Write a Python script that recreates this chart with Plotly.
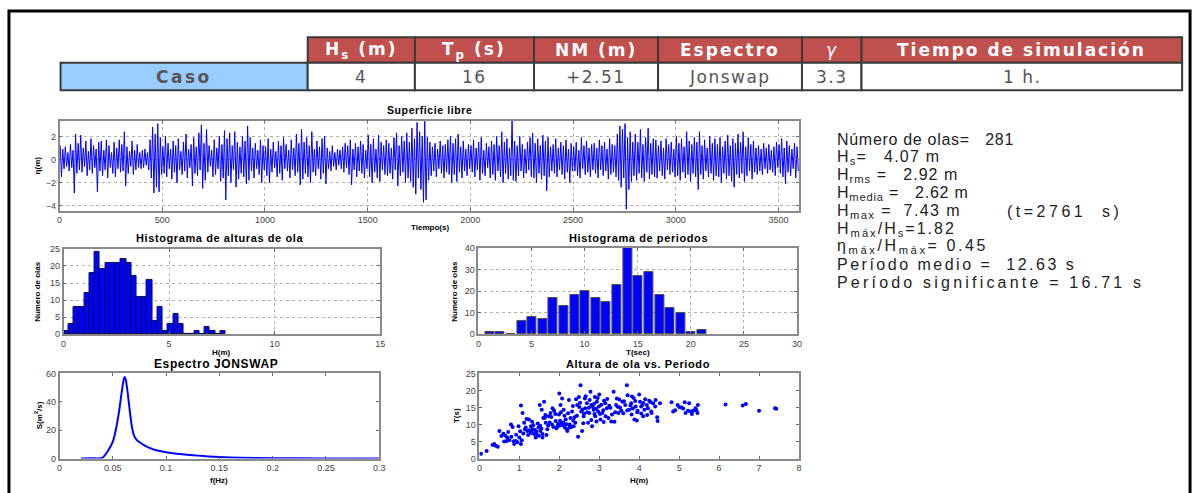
import plotly.graph_objects as go

W, H = 1203, 493

# ---------------- DATA ----------------
table_headers = ["H<sub>s</sub> (m)", "T<sub>p</sub> (s)", "NM (m)", "Espectro", "γ", "Tiempo de simulación"]
table_row_label = "Caso"
table_values = ["4", "16", "+2.51", "Jonswap", "3.3", "1 h."]

# Free-surface record: crest / trough of each wave, rows = 100 s blocks
crests = [
    1.2, 0.9, 1.1, 0.6, 1.3, 0.8, 2.2, 1.4,
    2.1, 1.0, 1.6, 0.7, 1.8, 1.2, 0.9, 1.5,
    1.6, 0.8, 1.7, 1.2, 0.6, 1.5, 1.0, 1.7,
    1.3, 2.4, 1.1, 0.7, 1.6, 0.8, 1.3, 0.6,
    0.8, 0.9, 0.6, 1.7, 2.8, 2.2, 3.1, 1.9,
    1.1, 2.0, 1.4, 0.9, 1.6, 1.2, 1.8, 0.7,
    1.5, 2.2, 0.9, 1.3, 1.9, 1.1, 2.3, 3.0,
    1.4, 2.6, 1.2, 0.8, 1.7, 1.0, 2.0, 1.3,
    2.5, 1.8, 2.3, 1.2, 2.4, 1.5, 1.1, 2.0,
    1.6, 2.9, 1.9, 1.0, 1.4, 0.8, 1.7, 1.2,
    1.1, 1.8, 0.9, 1.5, 0.7, 1.6, 1.2, 1.9,
    1.3, 0.8, 1.7, 1.0, 2.2, 1.4, 2.6, 1.5,
    1.9, 1.2, 2.4, 0.9, 1.6, 1.1, 1.8, 2.0,
    1.0, 0.7, 1.2, 0.6, 0.9, 0.8, 1.1, 1.4,
    1.2, 1.7, 0.9, 1.4, 1.1, 1.6, 1.3, 0.8,
    2.1, 1.3, 1.8, 0.9, 2.1, 1.5, 1.2, 1.7,
    1.4, 1.0, 1.9, 2.3, 1.2, 2.0, 1.6, 2.3,
    1.5, 2.7, 1.8, 3.2, 2.4, 2.0, 3.3, 1.9,
    1.5, 1.1, 1.4, 0.9, 1.6, 1.2, 1.3, 1.7,
    2.0, 1.4, 1.8, 2.2, 1.1, 1.6, 0.9, 1.3,
    1.2, 1.7, 1.0, 1.5, 1.9, 0.8, 1.4, 1.1,
    1.6, 1.3, 2.0, 1.2, 2.4, 1.5, 1.8, 1.0,
    3.4, 1.6, 1.2, 2.0, 1.3, 0.9, 1.5, 1.9,
    2.3, 1.4, 1.8, 1.2, 2.1, 1.6, 1.9, 1.1,
    1.3, 1.8, 1.0, 1.5, 1.2, 1.7, 0.9, 1.4,
    1.1, 1.5, 0.8, 1.9, 1.2, 1.6, 1.0, 1.3,
    1.4, 1.0, 1.7, 1.2, 1.5, 0.9, 1.8, 1.3,
    1.2, 2.2, 2.9, 2.6, 3.1, 1.9, 2.4, 1.5,
    2.2, 1.5, 2.6, 1.3, 1.9, 2.7, 1.4, 1.8,
    1.7, 1.2, 1.6, 1.0, 1.8, 1.3, 1.5, 0.9,
    2.0, 1.4, 1.8, 1.1, 2.4, 1.6, 1.3, 1.9,
    1.5, 2.4, 1.2, 1.7, 1.0, 2.0, 1.4, 1.8,
    1.3, 1.9, 1.1, 1.6, 2.1, 1.2, 1.8, 1.4,
    2.2, 1.5, 2.4, 1.1, 1.9, 1.3, 1.6, 1.0,
    1.2, 0.9, 1.4, 1.0, 1.3, 0.8, 1.1, 1.5,
    1.3, 1.8, 1.0, 1.6, 1.2, 0.9, 1.4, 1.1,
]
troughs = [
    -1.5, -0.8, -0.6, -1.0, -0.7, -2.9, -1.2, -0.9,
    -1.1, -0.6, -1.4, -0.9, -1.2, -0.7, -2.8, -1.0,
    -1.4, -0.9, -1.6, -0.7, -1.2, -1.5, -0.8, -1.1,
    -1.0, -2.3, -1.2, -0.6, -1.3, -0.9, -0.7, -0.8,
    -0.7, -0.5, -0.9, -1.6, -2.9, -2.4, -2.8, -1.3,
    -1.2, -1.5, -0.8, -1.7, -1.1, -2.0, -0.9, -1.3,
    -1.0, -1.6, -0.7, -2.3, -1.2, -1.4, -0.9, -2.5,
    -1.8, -1.1, -0.6, -1.5, -1.3, -0.8, -1.9, -1.6,
    -3.5, -1.4, -2.0, -0.9, -2.4, -1.7, -1.2, -1.5,
    -2.1, -1.8, -1.0, -1.6, -0.8, -1.3, -2.0, -0.9,
    -1.4, -2.0, -1.1, -0.7, -1.5, -1.2, -1.8, -0.8,
    -1.0, -1.6, -0.9, -1.4, -1.1, -2.2, -1.7, -1.2,
    -1.5, -2.0, -1.1, -1.4, -0.8, -1.7, -1.2, -2.1,
    -0.8, -1.0, -0.6, -0.9, -0.5, -0.8, -1.1, -0.7,
    -1.3, -2.2, -0.9, -1.5, -1.0, -1.2, -1.6, -0.8,
    -1.5, -2.0, -1.1, -1.6, -1.9, -0.9, -1.3, -1.4,
    -1.2, -1.7, -0.9, -2.3, -1.4, -1.1, -2.0, -1.6,
    -1.9, -2.4, -3.0, -1.6, -2.6, -3.7, -3.5, -1.8,
    -1.4, -1.0, -1.5, -0.8, -1.2, -1.6, -1.1, -1.3,
    -2.0, -1.3, -1.9, -1.1, -1.6, -1.0, -1.4, -0.8,
    -1.1, -1.5, -0.9, -1.8, -1.2, -1.4, -0.7, -1.6,
    -1.3, -1.8, -1.0, -1.5, -2.0, -1.2, -1.7, -1.4,
    -1.8, -1.9, -1.4, -1.0, -1.6, -1.2, -0.9, -1.5,
    -1.6, -2.0, -1.2, -1.7, -1.4, -2.7, -1.5, -1.0,
    -1.2, -1.5, -0.9, -1.3, -1.7, -1.1, -2.0, -1.0,
    -1.0, -1.4, -1.6, -0.8, -1.3, -1.1, -1.5, -0.9,
    -1.2, -1.6, -0.9, -1.4, -1.0, -1.7, -1.3, -1.1,
    -1.5, -1.8, -2.4, -1.6, -4.3, -2.6, -1.9, -1.4,
    -1.8, -1.2, -1.6, -1.9, -1.1, -1.7, -1.3, -1.5,
    -1.6, -1.0, -1.4, -1.7, -0.9, -1.3, -1.1, -1.5,
    -1.4, -1.8, -1.1, -1.6, -1.3, -1.9, -1.2, -1.5,
    -2.6, -1.3, -1.7, -1.0, -1.5, -1.2, -1.8, -1.4,
    -1.5, -2.0, -1.2, -1.7, -1.4, -1.9, -2.4, -1.3,
    -1.6, -1.2, -1.9, -1.4, -1.0, -1.7, -1.1, -1.3,
    -1.0, -1.3, -0.8, -1.2, -0.9, -1.1, -1.4, -0.7,
    -1.2, -1.5, -2.1, -1.1, -1.4, -0.8, -1.6, -1.0,
]

# Wave-height histogram (counts per bin)
h_counts = [1, 3, 8, 8, 12, 18, 24, 19, 21, 21, 21, 22, 21, 17, 11, 11, 16, 4, 8, 1, 3, 6, 3, 0, 0, 1, 0, 2, 1, 0, 1]
# Period histogram (counts per bin)
t_counts = [1, 1, 0, 6, 8, 7, 17, 13, 18, 20, 17, 15, 23, 40, 27, 29, 18, 12, 10, 1, 2]

# JONSWAP spectrum
spec_f = [0.02, 0.03, 0.04, 0.045, 0.05, 0.053, 0.056, 0.058, 0.06, 0.061, 0.062, 0.064,
          0.066, 0.068, 0.07, 0.072, 0.075, 0.08, 0.085, 0.09, 0.1, 0.11, 0.12, 0.13,
          0.14, 0.15, 0.17, 0.2, 0.25, 0.3]
spec_S = [0.0, 0.2, 0.5, 5.0, 12.0, 21.0, 34.0, 45.0, 55.0, 57.5, 56.0, 46.0,
          33.0, 22.0, 16.0, 13.5, 11.5, 9.2, 7.4, 6.0, 4.5, 3.5, 2.8, 2.1,
          1.5, 1.1, 0.6, 0.3, 0.1, 0.05]

# Wave height vs period scatter
sc_H = [0.04, 0.18, 0.37, 0.41, 0.33, 0.46, 0.5, 0.6, 0.65, 0.68, 0.75, 0.7, 0.79, 0.83, 0.87, 0.91,
        0.95, 1.0, 1.04, 1.06, 1.04, 1.08, 1.12, 1.16, 1.2, 1.24, 1.29, 1.31, 1.33, 1.37, 1.41, 1.43,
        1.48, 1.49, 1.53, 1.58, 1.51, 1.56, 1.62, 1.64, 1.66, 1.7, 1.74, 1.78, 1.82, 1.87, 1.91, 1.95,
        1.99, 2.0, 2.03, 2.06, 2.07, 2.11, 2.14, 2.16, 2.2, 2.24, 2.26, 2.28, 2.32, 2.36, 2.4, 2.45,
        2.47, 2.49, 2.53, 2.55, 2.57, 2.61, 2.64, 2.65, 2.69, 2.72, 2.75, 2.78, 2.8, 2.82, 2.86, 2.89,
        2.9, 2.94, 2.97, 2.99, 3.0, 3.03, 3.08, 3.11, 3.15, 3.19, 3.23, 3.32, 3.36, 3.38, 3.42, 3.44,
        3.48, 3.52, 3.58, 3.65, 3.69, 3.71, 3.75, 3.8, 3.81, 3.86, 3.88, 3.91, 3.94, 3.96, 4.0, 4.02,
        4.05, 4.08, 4.1, 4.13, 4.19, 4.25, 4.3, 4.31, 4.35, 4.41, 4.46, 4.52, 4.81, 4.85, 4.96, 5.06,
        5.14, 5.16, 5.22, 5.29, 5.35, 5.41, 5.46, 5.47, 6.16, 6.59, 6.67, 7.0, 7.4, 7.43,
        1.18, 1.25, 1.35, 1.45, 1.55, 1.6, 1.72, 1.8, 1.85, 1.9, 1.97, 2.02, 2.09, 2.13, 2.18, 2.22,
        2.3, 2.34, 2.38, 2.42, 2.5, 2.58, 2.62, 2.7, 2.76, 2.84, 2.88, 2.92, 2.96, 3.05, 3.1, 3.2,
        3.28, 3.4, 3.46, 3.55, 3.62, 3.78, 3.84, 3.9, 4.05, 4.15, 4.22, 0.55, 0.62, 0.72, 0.8, 0.86,
        0.92, 0.98, 1.02, 1.1, 1.14, 1.22, 1.28, 1.32, 1.39, 1.46, 1.52, 1.58, 1.65, 1.68, 1.76, 1.83,
        1.93, 2.0, 2.04, 2.1, 2.19, 2.26, 2.35, 2.44, 2.52, 2.6, 2.66, 2.74, 2.8, 2.87, 2.93, 3.02,
        3.12, 3.16, 3.25, 3.3, 3.5, 3.6, 3.7, 3.82, 3.95, 4.1, 4.2, 4.28, 4.4, 4.45, 4.9, 5.0,
        5.1, 5.25, 5.32, 5.43]
sc_T = [1.4, 2.2, 4.3, 3.8, 4.0, 3.5, 8.1, 7.3, 6.7, 5.2, 5.4, 6.2, 10.0, 9.3, 4.3, 5.2,
        4.8, 6.2, 4.3, 5.4, 15.6, 13.4, 10.5, 9.1, 8.1, 11.5, 9.5, 7.6, 8.6, 7.2, 6.2, 7.9,
        9.1, 6.7, 8.1, 6.2, 15.7, 14.3, 16.7, 12.0, 10.5, 8.6, 12.4, 13.4, 10.0, 14.0, 11.0, 9.5,
        12.9, 19.1, 15.7, 10.5, 17.6, 14.3, 9.1, 11.5, 8.1, 17.2, 10.0, 11.9, 13.8, 9.5, 10.5, 15.7,
        6.4, 18.1, 21.5, 13.8, 8.1, 12.4, 17.6, 14.8, 16.2, 10.5, 13.4, 19.6, 15.7, 9.5, 14.3, 18.1,
        12.4, 16.7, 13.8, 15.3, 18.8, 11.5, 13.4, 10.7, 16.2, 14.8, 11.9, 12.9, 19.6, 10.8, 15.7, 17.6,
        13.4, 15.0, 16.7, 15.7, 21.5, 18.6, 14.3, 16.2, 12.9, 17.8, 11.5, 15.3, 11.2, 14.0, 18.8, 16.7,
        15.3, 15.7, 12.4, 14.3, 15.7, 17.0, 13.8, 13.4, 16.2, 17.2, 11.0, 16.2, 16.5, 13.8, 15.7, 15.0,
        16.5, 13.4, 14.0, 13.8, 14.0, 14.8, 13.4, 15.7, 15.9, 15.6, 16.0, 14.0, 14.8, 14.6,
        11.6, 8.3, 9.8, 6.9, 8.8, 11.9, 9.7, 12.2, 9.3, 13.1, 10.2, 11.1, 9.8, 12.6, 10.1, 13.3,
        9.3, 15.4, 12.1, 17.4, 15.1, 14.4, 13.2, 13.6, 17.2, 15.1, 13.1, 14.6, 17.8, 15.8, 14.2, 17.5,
        14.9, 13.6, 15.2, 14.1, 16.8, 15.6, 14.7, 16.9, 13.2, 17.4, 14.8, 6.6, 5.0, 7.8, 6.4, 5.1,
        7.0, 9.5, 8.0, 7.4, 8.6, 6.9, 7.6, 10.8, 8.4, 10.3, 9.6, 7.2, 12.8, 6.9, 10.6, 14.8,
        8.9, 9.6, 13.6, 10.6, 8.6, 9.1, 11.1, 12.6, 16.4, 10.4, 18.3, 14.9, 11.3, 16.1, 10.9, 13.1,
        17.0, 12.4, 15.5, 10.9, 17.3, 13.3, 14.1, 18.2, 13.6, 16.3, 12.8, 16.6, 15.3, 12.1, 14.2, 15.1,
        14.7, 16.2, 13.1, 14.2]

stats_lines = [
    "Número de olas=\u00a0\u00a0\u00a0281",
    "H<sub>s</sub>=\u00a0\u00a0 4.07 m",
    "H<sub>rms</sub> =\u00a0\u00a0 2.92 m",
    "H<sub>media</sub> =\u00a0\u00a0 2.62 m",
    "H<sub>max</sub> =\u00a0 7.43 m",
    "H<sub>máx</sub>/H<sub>s</sub>=1.82",
    "η<sub>máx</sub>/H<sub>máx</sub>= 0.45",
    "Período medio =\u00a0 12.63 s",
    "Período significante = 16.71 s",
]
hmax_time_text = "(t=2761\u00a0 s)"

# ---------------- LAYOUT HELPERS ----------------
def px(x):
    return x / W

def py(y):
    return 1 - y / H

eta = []
for c, t in zip(crests, troughs):
    eta.append(c)
    eta.append(t)

fig = go.Figure()

# domains in pixels: (left, right, top, bottom)
dom = {
    "1": (57, 802, 118, 210),
    "2": (61, 380, 249, 336),
    "3": (479, 800, 248, 336),
    "4": (57, 379, 376, 463),
    "5": (480, 802, 376, 463),
}

fig.add_trace(go.Scatter(y=eta, x0=3, dx=3600 / len(eta), mode="lines",
                         line=dict(color="#0000ff", width=1), xaxis="x", yaxis="y"))
fig.add_trace(go.Bar(y=h_counts, x0=0.11, dx=0.248, width=0.248,
                     marker=dict(color="#0000ff", line=dict(color="#10104a", width=1)),
                     xaxis="x2", yaxis="y2"))
fig.add_trace(go.Bar(y=t_counts, x0=1.05, dx=1.0, width=0.85,
                     marker=dict(color="#0000ff", line=dict(color="#505050", width=1)),
                     xaxis="x3", yaxis="y3"))
fig.add_trace(go.Scatter(x=spec_f, y=spec_S, mode="lines",
                         line=dict(color="#0000ff", width=2, shape="spline", smoothing=0.6),
                         xaxis="x4", yaxis="y4"))
fig.add_trace(go.Scatter(x=sc_H, y=sc_T, mode="markers", marker=dict(color="#0000ff", size=4),
                         xaxis="x5", yaxis="y5"))

tickfont = dict(family="Liberation Sans, Arial", size=9, color="#444")

def axis_style(domain, rng, dtick, grid, **kw):
    d = dict(domain=domain, range=rng, dtick=dtick, showgrid=grid, gridcolor="#b0b0b0",
             griddash="dot", gridwidth=1, zeroline=False, showline=True, mirror="allticks",
             linecolor="#8a8a8a", linewidth=1.5, ticks="inside", ticklen=3, tickcolor="#666",
             tickfont=tickfont, fixedrange=True)
    d.update(kw)
    return d

layout_axes = {}
specs = {
    "1": dict(xr=[0, 3600], xd=500, yr=[-4.43, 3.36], yd=2, grid=True),
    "2": dict(xr=[0, 15], xd=5, yr=[0, 25], yd=5, grid=True),
    "3": dict(xr=[0, 30], xd=5, yr=[0, 40], yd=10, grid=True),
    "4": dict(xr=[0, 0.3], xd=0.05, yr=[0, 60], yd=20, grid=False),
    "5": dict(xr=[0, 8], xd=1, yr=[0, 25], yd=5, grid=False),
}
for k, (l, r, t, b) in dom.items():
    s = specs[k]
    xname = "xaxis" if k == "1" else "xaxis" + k
    yname = "yaxis" if k == "1" else "yaxis" + k
    xa = axis_style([px(l), px(r)], s["xr"], s["xd"], s["grid"], anchor="y" if k == "1" else "y" + k)
    ya = axis_style([py(b), py(t)], s["yr"], s["yd"], s["grid"], anchor="x" if k == "1" else "x" + k)
    layout_axes[xname] = xa
    layout_axes[yname] = ya
layout_axes["yaxis"]["tickvals"] = [-4, -2, 0, 2]
layout_axes["xaxis4"]["tickvals"] = [0, 0.05, 0.1, 0.15, 0.2, 0.25, 0.3]
layout_axes["xaxis4"]["ticktext"] = ["0", "0.05", "0.1", "0.15", "0.2", "0.25", "0.3"]

shapes = []
annotations = []

def label(text, x, y, size, color="black", family="Liberation Sans, Arial", xanchor="center", angle=0, ls=None):
    if ls is not None:
        text = '<span style="letter-spacing:%.1fpx">%s</span>' % (ls, text)
    annotations.append(dict(x=px(x), y=py(y), xref="paper", yref="paper", text=text,
                            xanchor=xanchor, yanchor="middle", showarrow=False, textangle=angle,
                            font=dict(family=family, size=size, color=color)))

# outer frame
shapes.append(dict(type="rect", xref="paper", yref="paper", x0=px(6), x1=px(1196), y0=py(520), y1=py(6),
                   line=dict(color="black", width=3), fillcolor="rgba(0,0,0,0)", layer="above"))

# table
col_edges = [307, 415, 535, 660, 805, 865, 1188]
hy0, hy1, ry1 = 33, 59, 87
border = "#3a3a3a"
tfont = "DejaVu Sans, Verdana"
shapes.append(dict(type="rect", xref="paper", yref="paper", x0=px(58), x1=px(307), y0=py(ry1), y1=py(hy1),
                   fillcolor="#99ccff", line=dict(color=border, width=2), layer="below"))
label("<b>" + table_row_label + "</b>", (58 + 307) / 2, (hy1 + ry1) / 2, 17, "#555", tfont, ls=2.5)
for i in range(len(table_headers)):
    x0, x1 = col_edges[i], col_edges[i + 1]
    shapes.append(dict(type="rect", xref="paper", yref="paper", x0=px(x0), x1=px(x1), y0=py(hy1), y1=py(hy0),
                       fillcolor="#c0504d", line=dict(color=border, width=2), layer="below"))
    shapes.append(dict(type="rect", xref="paper", yref="paper", x0=px(x0), x1=px(x1), y0=py(ry1), y1=py(hy1),
                       fillcolor="white", line=dict(color=border, width=2), layer="below"))
    htxt = table_headers[i]
    htxt = "<i>" + htxt + "</i>" if htxt == "γ" else "<b>" + htxt + "</b>"
    label(htxt, (x0 + x1) / 2, (hy0 + hy1) / 2, 17, "white", tfont, ls=2.0)
    label(table_values[i], (x0 + x1) / 2, (hy1 + ry1) / 2 + 1, 17, "#555", tfont, ls=1.5)

# titles
titles = [
    ("Superficie libre", 430, 107, 10.5),
    ("Histograma de alturas de ola", 218, 238, 11),
    ("Histograma de periodos", 640, 238, 11),
    ("Espectro JONSWAP", 215, 366, 12),
    ("Altura de ola vs. Periodo", 640, 366, 11),
]
for txt, x, y, s in titles:
    label("<b>" + txt + "</b>", x, y, s, ls=0.6)

xlabels = [
    ("Tiempo(s)", 430, 227),
    ("H(m)", 220, 355),
    ("T(sec)", 640, 355),
    ("f(Hz)", 218, 485),
    ("H(m)", 641, 485),
]
for txt, x, y in xlabels:
    label("<b>" + txt + "</b>", x, y, 8)

ylabels = [
    ("η(m)", 35, 164),
    ("Numero de olas", 34, 292),
    ("Numero de olas", 454, 292),
    ("S(m<sup>2</sup>/s)", 35, 419),
    ("T(s)", 457, 419),
]
for txt, x, y in ylabels:
    label("<b>" + txt + "</b>", x, y, 8, angle=-90)

# stats text block
stat_y = [137, 156, 174, 192, 211, 229, 247, 265, 283]
stat_ls = [0.7, 1.2, 1.0, 0.8, 1.4, 2.0, 2.6, 2.5, 3.2]
for txt, y, l in zip(stats_lines, stat_y, stat_ls):
    label(txt, 838, y, 16, "#222", xanchor="left", ls=l)
label(hmax_time_text, 1010, stat_y[4], 16, "#222", xanchor="left", ls=3.5)

fig.update_layout(
    width=W, height=H, margin=dict(l=0, r=0, t=0, b=0),
    paper_bgcolor="white", plot_bgcolor="white", showlegend=False,
    bargap=0, shapes=shapes, annotations=annotations, **layout_axes,
)

fig.write_html("out.html", config={"displayModeBar": False},
               post_script="document.body.style.margin='0px';document.body.style.overflow='hidden';")
